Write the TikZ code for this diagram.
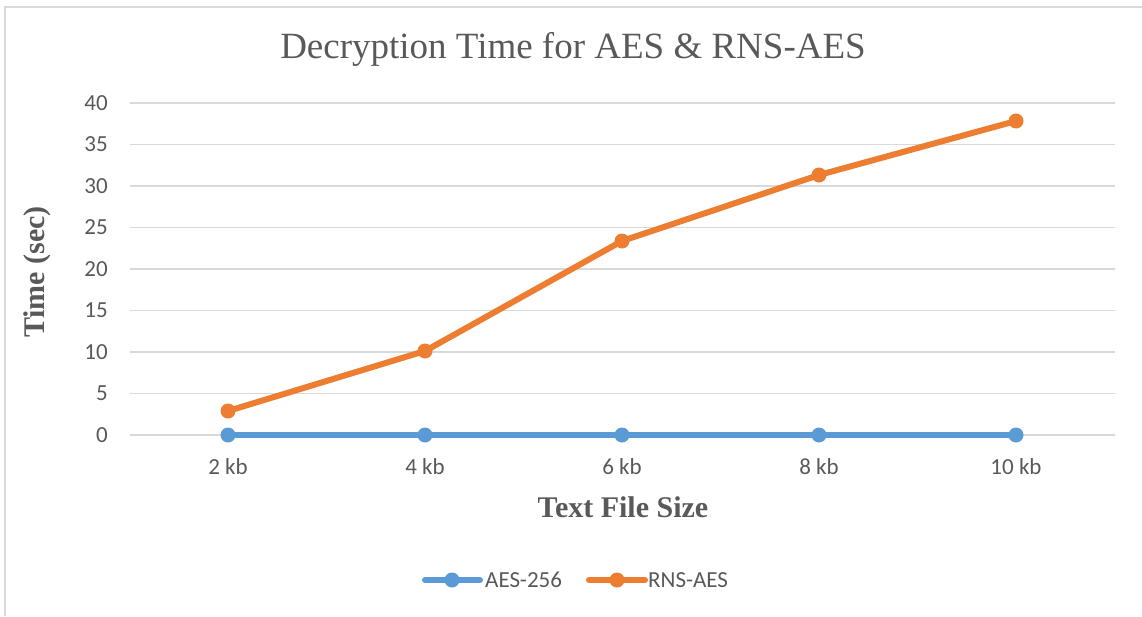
\documentclass[tikz,border=0pt]{standalone}
\usepackage{fontspec}
\setmainfont{Liberation Serif}
\newfontfamily\calib{Carlito}
\definecolor{txtgray}{HTML}{595959}
\definecolor{gridgray}{HTML}{D9D9D9}
\definecolor{aesblue}{HTML}{5B9BD5}
\definecolor{rnsorange}{HTML}{ED7D31}
\tikzset{
  gridline/.style={draw=gridgray, line width=1.5pt},
  ticklab/.style={font=\calib\fontsize{23}{25}\selectfont, text=txtgray, inner sep=0pt},
  axtitle/.style={font=\bfseries\fontsize{30}{33}\selectfont, text=txtgray, inner sep=0pt},
  bluemark/.style={circle, fill=aesblue, inner sep=0pt, minimum size=15pt},
  orangemark/.style={circle, fill=rnsorange, inner sep=0pt, minimum size=15pt},
  blueline/.style={draw=aesblue, line width=6pt},
  orangeline/.style={draw=rnsorange, line width=6pt},
}
\begin{document}
\begin{tikzpicture}[x=1pt, y=-1pt]
\useasboundingbox (0,0) rectangle (1142,616);
% outer frame
\draw[gridgray, line width=2pt] (5,616) -- (5,7) -- (1142,7);
% title
\node[font=\fontsize{37}{40}\selectfont, text=txtgray, inner sep=0pt] (title) at (573,49) {Decryption Time for AES \& RNS-AES};
% grid and y labels
\foreach \v in {0,5,...,40} {
  \draw[gridline] (130,{435-8.3*\v}) -- (1115,{435-8.3*\v});
  \node[ticklab, anchor=east] (y\v) at (108,{435-8.3*\v}) {\v};
}
% x labels
\foreach \x/\l [count=\i] in {228/2 kb,425/4 kb,622/6 kb,819/8 kb,1016/10 kb} {
  \node[ticklab] (x\i) at (\x,467) {\l};
}
% axis titles
\node[axtitle, rotate=90] (ytitle) at (37,272) {Time (sec)};
\node[axtitle] (xtitle) at (623,507) {Text File Size};
% AES-256 series
\foreach \x [count=\i] in {228,425,622,819,1016} {
  \coordinate (a\i) at (\x,435);
}
\draw[blueline] (a1) -- (a2) -- (a3) -- (a4) -- (a5);
\foreach \i in {1,...,5} { \node[bluemark] (am\i) at (a\i) {}; }
% RNS-AES series
\coordinate (r1) at (228,411);
\coordinate (r2) at (425,351);
\coordinate (r3) at (622,241);
\coordinate (r4) at (819,175);
\coordinate (r5) at (1016,121);
\draw[orangeline, line join=round] (r1) -- (r2) -- (r3) -- (r4) -- (r5);
\foreach \i in {1,...,5} { \node[orangemark] (rm\i) at (r\i) {}; }
% legend
\coordinate (lb1) at (425,580); \coordinate (lb2) at (480,580);
\draw[blueline, line cap=round] (lb1) -- (lb2);
\node[bluemark] (lbm) at (452,580) {};
\node[ticklab, anchor=west] (lbt) at (485,580) {AES-256};
\coordinate (lo1) at (589,580); \coordinate (lo2) at (645,580);
\draw[orangeline, line cap=round] (lo1) -- (lo2);
\node[orangemark] (lom) at (617,580) {};
\node[ticklab, anchor=west] (lot) at (648,580) {RNS-AES};
\end{tikzpicture}
\end{document}
